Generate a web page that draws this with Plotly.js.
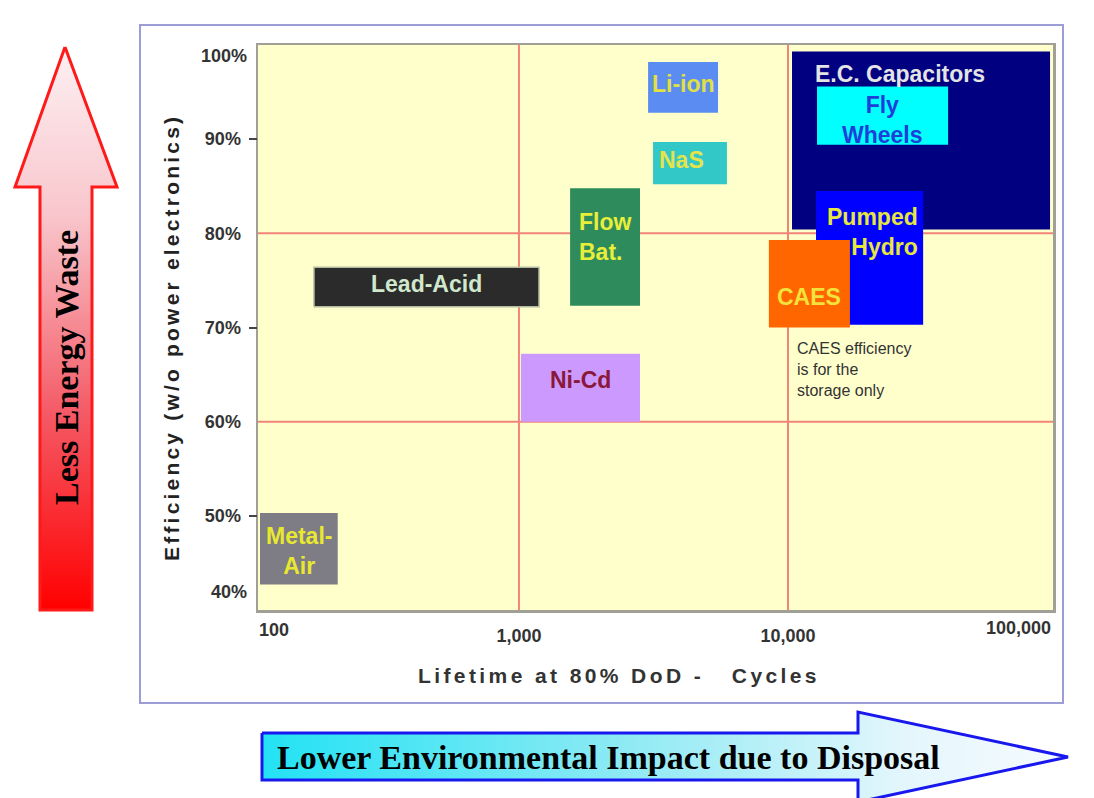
<!DOCTYPE html>
<html><head><meta charset="utf-8">
<script src="https://cdn.plot.ly/plotly-3.0.1.min.js"></script>
<style>html,body{margin:0;padding:0;background:#ffffff;}</style>
</head><body>
<div id="chart" style="width:1094px;height:798px;"></div>
<script>
// ---------------- data ----------------
const technologies = ['E.C. Capacitors','Fly Wheels','Pumped Hydro','CAES','Li-ion','NaS','Flow Bat.','Lead-Acid','Ni-Cd','Metal-Air'];
const labelText   = ['E.C. Capacitors','Fly<br>Wheels','Pumped<br>Hydro','CAES','Li-ion','NaS','Flow<br>Bat.','Lead-Acid','Ni-Cd','Metal-<br>Air'];
const cyclesMin = [10350, 12820, 12710, 8490, 3020, 3150, 1549, 173, 1017, 109];
const cyclesMax = [94200, 39360, 31790, 16990, 5495, 5930, 2818, 1187, 2818, 212];
const effMin    = [80.4, 89.4, 70.3, 70.0, 92.8, 85.2, 72.3, 72.2, 60.0, 42.7];
const effMax    = [99.3, 95.6, 84.5, 79.3, 98.2, 89.7, 84.8, 76.4, 67.2, 50.3];
const xTickVals = [100, 1000, 10000, 100000];
const xTickText = ['100', '1,000', '10,000', '100,000'];
const yTickVals = [40, 50, 60, 70, 80, 90, 100];
const yTickText = ['40%', '50%', '60%', '70%', '80%', '90%', '100%'];
const yTickMarks = [50, 70, 90];
const refCycles = [1000, 10000];
const refEff    = [60, 80];
const noteText  = 'CAES efficiency<br>is for the<br>storage only';
const xTitle = 'Lifetime at 80% DoD -\u00a0\u00a0 Cycles';
const yTitle = 'Efficiency (w/o power electronics)';
const arrowUpText = 'Less Energy Waste';
const arrowRightText = 'Lower Environmental Impact due to Disposal';

// ---------------- styles ----------------
const fills = {
  'E.C. Capacitors':'#000080','Fly Wheels':'#00ffff','Pumped Hydro':'#0000ff','CAES':'#ff6600',
  'Li-ion':'#5a8cf2','NaS':'#33c8c8','Flow Bat.':'#2e8c5c','Lead-Acid':'#2b2b2b','Ni-Cd':'#cc99ff','Metal-Air':'#7e7c84'
};
const labelStyle = {
  'E.C. Capacitors': {color:'#e4e4e4', anchor:'topleft', dx:21, dy:-7},
  'Fly Wheels':      {color:'#1f3fd8', dy:-4},
  'Pumped Hydro':    {color:'#e6e640', anchor:'right', dx:-3, dy:26, align:'right'},
  'CAES':            {color:'#f2e23c', dy:-13},
  'Li-ion':          {color:'#e0e040', dy:3},
  'NaS':             {color:'#e4e44a', dx:-8, dy:3},
  'Flow Bat.':       {color:'#e8ee3a', dy:10, align:'left'},
  'Lead-Acid':       {color:'#d0e8cc', dy:3},
  'Ni-Cd':           {color:'#8a1838', dy:8},
  'Metal-Air':       {color:'#e8e830', dy:-2}
};
const SANS = 'Liberation Sans, Arial, sans-serif';
const SERIF = 'Liberation Serif, Times New Roman, serif';
const W = 1094, H = 798;
const plotL = 258, plotR = 1053, plotT = 45, plotB = 610;
const yMin = 40, yMax = 100;

// ---------------- traces ----------------
const traces = [];
technologies.forEach((t, i) => {
  const x0 = cyclesMin[i], x1 = cyclesMax[i], y0 = effMin[i], y1 = effMax[i];
  traces.push({
    type:'scatter', mode:'lines', xaxis:'x', yaxis:'y',
    x:[x0, x1, x1, x0, x0], y:[y0, y0, y1, y1, y0],
    fill:'toself', fillcolor: fills[t],
    line: t === 'Lead-Acid' ? {color:'#b4bca0', width:1.5} : {width:0, color:fills[t]},
    hoverinfo:'skip', showlegend:false
  });
});
// invisible trace that registers the tick-mark axis (y3 overlays y)
traces.push({type:'scatter', mode:'markers', xaxis:'x', yaxis:'y3', x:[cyclesMin[0]], y:[effMin[0]],
  marker:{opacity:0, size:1}, hoverinfo:'skip', showlegend:false});

// decorative arrows on a full-page overlay axis pair (pixel units)
traces.push({
  type:'scatter', mode:'lines', xaxis:'x2', yaxis:'y2',
  x:[65, 117, 92, 92, 40, 40, 15, 65], y:[47, 187, 187, 610, 610, 187, 187, 47],
  fill:'toself',
  fillgradient:{type:'vertical', start:47, stop:610,
    colorscale:[[0,'#fdf0f2'],[0.3,'#f8c6cc'],[0.65,'#f45a66'],[1,'#ff0000']]},
  line:{color:'#ff1a1a', width:3}, hoverinfo:'skip', showlegend:false
});
traces.push({
  type:'scatter', mode:'lines', xaxis:'x2', yaxis:'y2',
  x:[262, 858, 858, 1068, 858, 858, 262, 262], y:[733, 733, 712, 757, 802, 780, 780, 733],
  fill:'toself',
  fillgradient:{type:'horizontal', start:262, stop:1068,
    colorscale:[[0,'#22e2f4'],[0.45,'#8eeaf4'],[0.8,'#e4f6fc'],[1,'#f6fbff']]},
  line:{color:'#1818ee', width:3}, hoverinfo:'skip', showlegend:false
});

// ---------------- annotations ----------------
const annotations = [];
technologies.forEach((t, i) => {
  const s = labelStyle[t];
  const a = {
    text: labelText[i], showarrow:false, xref:'x', yref:'y',
    font:{family:SANS, size:23, color:s.color, weight:'bold'},
    align: s.align || 'center', xshift: s.dx || 0, yshift: s.dy || 0
  };
  if (s.anchor === 'topleft') {
    a.x = Math.log10(cyclesMin[i]); a.xanchor = 'left';
    a.y = effMax[i]; a.yanchor = 'top';
  } else if (s.anchor === 'right') {
    a.x = Math.log10(cyclesMax[i]); a.xanchor = 'right';
    a.y = (effMin[i] + effMax[i]) / 2; a.yanchor = 'middle';
  } else {
    a.x = Math.log10(Math.sqrt(cyclesMin[i] * cyclesMax[i])); a.xanchor = 'center';
    a.y = (effMin[i] + effMax[i]) / 2; a.yanchor = 'middle';
  }
  annotations.push(a);
});
const caesIdx = technologies.indexOf('CAES');
annotations.push({
  text: noteText, showarrow:false, xref:'x', yref:'y',
  x: Math.log10(cyclesMin[caesIdx]), xanchor:'left', xshift:26,
  y: effMin[caesIdx], yanchor:'top', yshift:-10, align:'left',
  font:{family:SANS, size:16, color:'#333333'}
});
// end tick labels (placed inside like the original)
const tickFont = {family:SANS, size:18, color:'#333333', weight:'bold'};
annotations.push({text:xTickText[0], showarrow:false, xref:'x2', yref:'y2', x:274, y:630, xanchor:'center', yanchor:'middle', font:tickFont});
annotations.push({text:xTickText[3], showarrow:false, xref:'x2', yref:'y2', x:1053, y:628, xanchor:'right', yanchor:'middle', font:tickFont});
annotations.push({text:yTickText[6], showarrow:false, xref:'x2', yref:'y2', x:249, y:56, xanchor:'right', yanchor:'middle', font:tickFont});
annotations.push({text:yTickText[0], showarrow:false, xref:'x2', yref:'y2', x:249, y:592, xanchor:'right', yanchor:'middle', font:tickFont});
// axis titles
annotations.push({text:'<span style="letter-spacing:3.4px">' + xTitle + '</span>', showarrow:false, xref:'x2', yref:'y2',
  x:619, y:675, xanchor:'center', yanchor:'middle', font:{family:SANS, size:21, color:'#333333', weight:'bold'}});
annotations.push({text:'<span style="letter-spacing:3.2px">' + yTitle + '</span>', showarrow:false, xref:'x2', yref:'y2',
  x:171, y:338, xanchor:'center', yanchor:'middle', textangle:-90, font:{family:SANS, size:21, color:'#222222', weight:'bold'}});
// arrow texts
annotations.push({text:arrowUpText, showarrow:false, xref:'x2', yref:'y2', x:66, y:368, textangle:-90,
  xanchor:'center', yanchor:'middle', font:{family:SERIF, size:34, color:'#000000', weight:'bold'}});
annotations.push({text:arrowRightText, showarrow:false, xref:'x2', yref:'y2', x:275, y:757,
  xanchor:'left', yanchor:'middle', font:{family:SERIF, size:34, color:'#000000', weight:'bold'}});

// ---------------- shapes ----------------
const shapes = [];
shapes.push({type:'rect', xref:'x2', yref:'y2', x0:140, x1:1063, y0:25, y1:703, line:{color:'#9c9cd6', width:2}, fillcolor:'rgba(0,0,0,0)', layer:'below'});
shapes.push({type:'rect', xref:'x domain', yref:'y domain', x0:0, x1:1, y0:0, y1:1, fillcolor:'#ffffcc', line:{width:0}, layer:'below'});
refCycles.forEach(v => shapes.push({type:'line', xref:'x', yref:'y domain', x0:v, x1:v, y0:0, y1:1, line:{color:'#f2857a', width:2}, layer:'below'}));
refEff.forEach(v => shapes.push({type:'line', xref:'x domain', yref:'y', x0:0, x1:1, y0:v, y1:v, line:{color:'#f2857a', width:2}, layer:'below'}));

// ---------------- layout ----------------
const yDomLo = 1 - plotB/H, yDomHi = 1 - plotT/H;
const layout = {
  width:W, height:H, margin:{l:0, r:0, t:0, b:0},
  paper_bgcolor:'#ffffff', plot_bgcolor:'rgba(0,0,0,0)',
  showlegend:false, hovermode:false,
  xaxis:{type:'log', domain:[plotL/W, plotR/W], range:[2.03, 4.985], anchor:'y',
    tickvals:xTickVals.slice(1,3), ticktext:xTickText.slice(1,3), ticks:'', ticklabelstandoff:8,
    tickfont:tickFont, showgrid:false, zeroline:false,
    showline:true, mirror:true, linecolor:'#a0a096', linewidth:2.5, fixedrange:true},
  yaxis:{domain:[yDomLo, yDomHi], range:[yMin, yMax], anchor:'x',
    tickvals:yTickVals.slice(1,6), ticktext:yTickText.slice(1,6), ticks:'', ticklabelstandoff:11,
    tickfont:tickFont, showgrid:false, zeroline:false,
    showline:true, mirror:true, linecolor:'#a0a096', linewidth:2.5, fixedrange:true},
  yaxis3:{overlaying:'y', side:'left', anchor:'x', range:[yMin, yMax],
    tickvals:yTickMarks, ticks:'outside', ticklen:8, tickwidth:2, tickcolor:'#444444',
    showticklabels:false, showgrid:false, zeroline:false, showline:false, fixedrange:true},
  xaxis2:{domain:[0,1], range:[0, W], anchor:'y2', visible:false, fixedrange:true},
  yaxis2:{domain:[0,1], range:[H, 0], anchor:'x2', visible:false, fixedrange:true},
  shapes: shapes, annotations: annotations
};

Plotly.newPlot('chart', traces, layout, {displayModeBar:false, staticPlot:true});
</script>
</body></html>
